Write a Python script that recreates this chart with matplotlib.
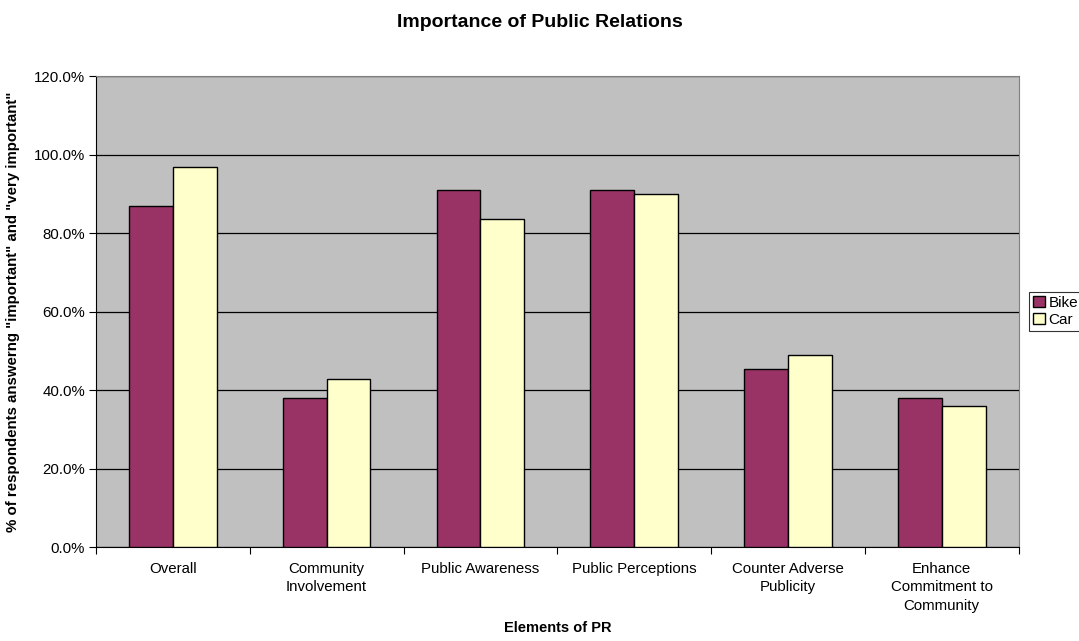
import numpy as np
import matplotlib.pyplot as plt
from matplotlib.ticker import FuncFormatter, FixedLocator

plt.rcParams['font.family'] = ['Liberation Sans', 'DejaVu Sans']

# 数据
categories = ['Overall', 'Community\nInvolvement', 'Public Awareness', 'Public Perceptions',
              'Counter Adverse\nPublicity', 'Enhance\nCommitment to\nCommunity']
bike = [86.9, 37.9, 90.9, 90.9, 45.4, 38.0]
car = [96.9, 42.9, 83.6, 89.9, 48.8, 36.0]

fig = plt.figure(figsize=(10.79, 6.41), dpi=100)
ax = fig.add_axes([0.089, 0.1466, 0.855, 0.7348])

x = np.arange(len(categories))
w = 0.285
ax.bar(x - w / 2, bike, w, color='#993366', edgecolor='black', linewidth=1.0, label='Bike', zorder=3)
ax.bar(x + w / 2, car, w, color='#FFFFCC', edgecolor='black', linewidth=1.0, label='Car', zorder=3)

ax.set_facecolor('#C0C0C0')
ax.set_xlim(-0.5, len(categories) - 0.5)
ax.set_ylim(0, 120)
ax.set_yticks(np.arange(0, 121, 20))
ax.yaxis.set_major_formatter(FuncFormatter(lambda v, p: f'{v:.1f}%'))
ax.grid(axis='y', color='black', linewidth=0.9, zorder=1)

# x 轴刻度画在类别分界处, 标签居中
ax.xaxis.set_major_locator(FixedLocator(np.arange(-0.5, len(categories), 1)))
ax.xaxis.set_minor_locator(FixedLocator(x))
ax.set_xticklabels([])
ax.set_xticklabels(categories, minor=True, fontsize=10.8, va='top', linespacing=1.38)
ax.tick_params(axis='x', which='minor', length=0, pad=11)
ax.tick_params(axis='x', which='major', length=5, direction='out', color='black')
ax.tick_params(axis='y', length=5, direction='out', labelsize=10.8, pad=3)

for s in ['top', 'right']:
    ax.spines[s].set_color('#808080')
for s in ['left', 'bottom']:
    ax.spines[s].set_color('black')

ax.set_xlabel('Elements of PR', fontsize=10.5, fontweight='bold', labelpad=6)
ax.set_ylabel('% of respondents answerng "important" and "very important"', fontsize=10.8,
              fontweight='bold', labelpad=10)
fig.suptitle('Importance of Public Relations', fontsize=14, fontweight='bold', y=0.978)

leg = ax.legend(loc='center left', bbox_to_anchor=(1.0118, 0.5), fontsize=11, frameon=True,
                fancybox=False, edgecolor='black', borderpad=0.25, handlelength=0.75,
                handleheight=0.75, handletextpad=0.25, labelspacing=0.2, borderaxespad=0)
leg.get_frame().set_linewidth(0.8)

fig.savefig('out.png', dpi=100)
